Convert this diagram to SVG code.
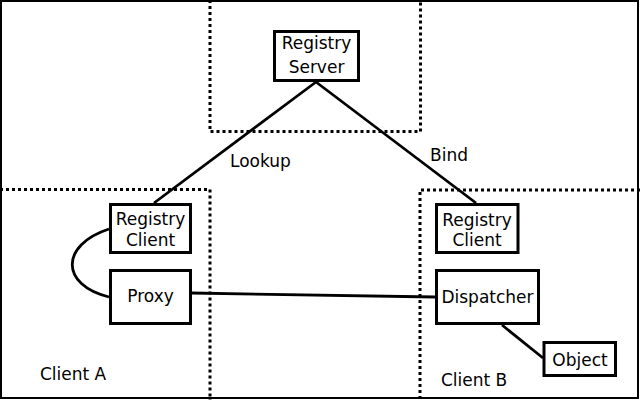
<svg xmlns="http://www.w3.org/2000/svg" width="640" height="400" viewBox="0 0 640 400">
<style>
.box{fill:#fff;stroke:#000;stroke-width:3}
.lbl{font-family:"DejaVu Sans",sans-serif;font-size:17px;fill:#000}
.c{text-anchor:middle}
.dot{fill:none;stroke:#000;stroke-width:3;stroke-dasharray:3 3}
.conn{fill:none;stroke:#000;stroke-width:2.8}
</style>
<rect x="0" y="0" width="640" height="400" fill="#fff"/>
<rect x="1" y="1" width="637" height="397" fill="none" stroke="#000" stroke-width="2"/>
<g id="regions">
<path class="dot" d="M210,0 V131.5 H420.5 V0"/>
<path class="dot" d="M0,189.5 H210 V400"/>
<path class="dot" d="M640,190 H420 V400"/>
</g>
<g id="connectors">
<path class="conn" d="M316,82 L154,203"/>
<path class="conn" d="M316,82 L476,203"/>
<path class="conn" d="M109,229 C60,245 60,285 109,297"/>
<path class="conn" d="M191,293 L435,297"/>
<path class="conn" d="M502,325 L543,358"/>
</g>
<g id="registry-server">
<rect class="box" x="274.5" y="31.5" width="84" height="49"/>
<text class="lbl c" x="316.5" y="49">Registry</text>
<text class="lbl c" x="316.5" y="73">Server</text>
</g>
<g id="registry-client-a">
<rect class="box" x="110.5" y="204.5" width="80" height="48"/>
<text class="lbl c" x="150.5" y="225">Registry</text>
<text class="lbl c" x="150.5" y="246">Client</text>
</g>
<g id="proxy">
<rect class="box" x="110.5" y="270.5" width="80" height="53"/>
<text class="lbl c" x="150.5" y="302">Proxy</text>
</g>
<g id="registry-client-b">
<rect class="box" x="436.5" y="204.5" width="81.5" height="48"/>
<text class="lbl c" x="477" y="226">Registry</text>
<text class="lbl c" x="477" y="246">Client</text>
</g>
<g id="dispatcher">
<rect class="box" x="436.5" y="270.5" width="102" height="53"/>
<text class="lbl c" x="487.5" y="303">Dispatcher</text>
</g>
<g id="object">
<rect class="box" x="544" y="342.5" width="71.5" height="33"/>
<text class="lbl c" x="580" y="366">Object</text>
</g>
<g id="labels">
<text class="lbl" x="230" y="167">Lookup</text>
<text class="lbl" x="430" y="161">Bind</text>
<text class="lbl" x="40" y="380">Client A</text>
<text class="lbl" x="441" y="386">Client B</text>
</g>
</svg>
